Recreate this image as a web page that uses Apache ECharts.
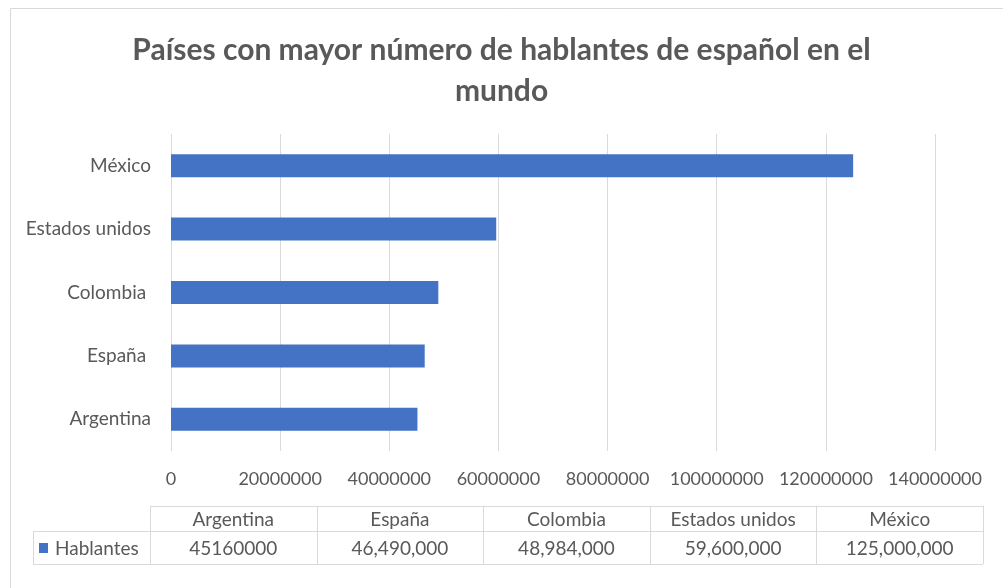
<!DOCTYPE html>
<html><head><meta charset="utf-8">
<script src="https://cdn.jsdelivr.net/npm/echarts@6/dist/echarts.min.js"></script>
<style>html,body{margin:0;padding:0;background:#fff}#c{width:1003px;height:588px}</style>
</head><body><div id="c"></div>
<script>
const titleText = 'Países con mayor número de hablantes de español en el\nmundo';
const categories = ['Argentina', 'España ', 'Colombia ', 'Estados unidos', 'México'];
const seriesName = 'Hablantes';
const values = [45160000, 46490000, 48984000, 59600000, 125000000];
const tableUsesSeparators = [false, true, true, true, true];
const axisMax = 140000000;
const axisInterval = 20000000;

const FONT = 'Lato';
const GRAY = '#595959';
const LINE = '#d9d9d9';
const BLUE = '#4472C4';

function fmt(v, sep) {
  if (!sep) return String(v);
  return String(v).replace(/\B(?=(\d{3})+(?!\d))/g, ',');
}

// table layout
const tLeft = 33, tCol0 = 150, tRight = 983;
const tTop = 506, tMid = 531, tBot = 564;
const colW = (tRight - tCol0) / categories.length;
const TFS = 19;
const g = [];
g.push({type: 'rect', shape: {x: 10.5, y: 8.5, width: 1100, height: 700}, style: {fill: 'none', stroke: LINE, lineWidth: 1}, silent: true});
g.push({type: 'line', shape: {x1: tCol0, y1: tTop + 0.5, x2: tRight, y2: tTop + 0.5}, style: {stroke: LINE, lineWidth: 1}});
g.push({type: 'line', shape: {x1: tLeft, y1: tMid + 0.5, x2: tRight, y2: tMid + 0.5}, style: {stroke: LINE, lineWidth: 1}});
g.push({type: 'line', shape: {x1: tLeft, y1: tBot + 0.5, x2: tRight, y2: tBot + 0.5}, style: {stroke: LINE, lineWidth: 1}});
g.push({type: 'line', shape: {x1: tLeft + 0.5, y1: tMid, x2: tLeft + 0.5, y2: tBot}, style: {stroke: LINE, lineWidth: 1}});
for (let i = 0; i <= categories.length; i++) {
  const x = Math.round(tCol0 + i * colW) + 0.5;
  g.push({type: 'line', shape: {x1: x, y1: tTop, x2: x, y2: tBot}, style: {stroke: LINE, lineWidth: 1}});
}
categories.forEach((c, i) => {
  const cx = tCol0 + (i + 0.5) * colW;
  g.push({type: 'text', x: cx, y: (tTop + tMid) / 2 + 1, style: {text: c.trim(), fill: GRAY, font: TFS + 'px ' + FONT, textAlign: 'center', textVerticalAlign: 'middle'}});
  g.push({type: 'text', x: cx, y: (tMid + tBot) / 2 + 1, style: {text: fmt(values[i], tableUsesSeparators[i]), fill: GRAY, font: TFS + 'px ' + FONT, textAlign: 'center', textVerticalAlign: 'middle'}});
});
g.push({type: 'rect', shape: {x: 39, y: 543, width: 9, height: 10}, style: {fill: BLUE}});
g.push({type: 'text', x: 55, y: (tMid + tBot) / 2 + 1, style: {text: seriesName, fill: GRAY, font: TFS + 'px ' + FONT, textAlign: 'left', textVerticalAlign: 'middle'}});

const chart = echarts.init(document.getElementById('c'), null, {renderer: 'canvas'});
chart.setOption({
  animation: false,
  backgroundColor: '#fff',
  title: {
    text: titleText, left: 'center', top: 25,
    textStyle: {fontFamily: FONT, fontWeight: 'bold', fontSize: 30, color: GRAY, lineHeight: 41}
  },
  grid: {left: 171, right: 68, top: 134, bottom: 137, containLabel: false},
  xAxis: {
    type: 'value', min: 0, max: axisMax, interval: axisInterval,
    axisLine: {show: false}, axisTick: {show: false},
    splitLine: {show: true, lineStyle: {color: LINE, width: 1}},
    axisLabel: {color: GRAY, fontFamily: FONT, fontSize: 18, margin: 19, formatter: v => String(v)}
  },
  yAxis: {
    type: 'category', data: categories,
    axisLine: {show: false}, axisTick: {show: false},
    axisLabel: {color: GRAY, fontFamily: FONT, fontSize: 19, margin: 20}
  },
  series: [{
    name: seriesName, type: 'bar', data: values, barWidth: 23,
    itemStyle: {color: BLUE}
  }],
  graphic: g
});
</script></body></html>
